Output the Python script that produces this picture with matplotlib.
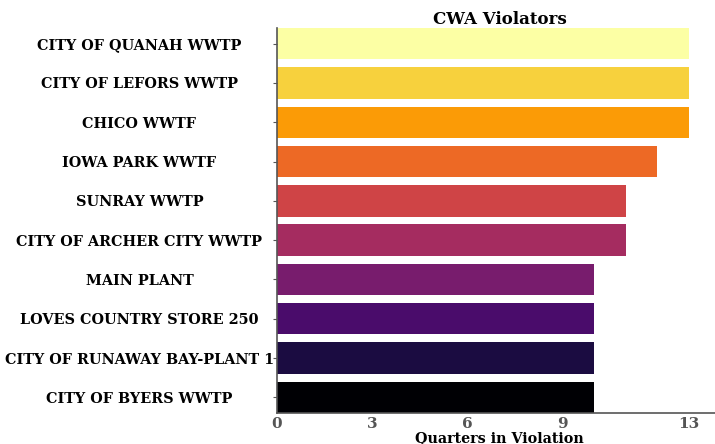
import numpy as np
import matplotlib
matplotlib.use("Agg")
import matplotlib.pyplot as plt

# facilities, top to bottom as shown
facilities = [
    "CITY OF QUANAH WWTP",
    "CITY OF LEFORS WWTP",
    "CHICO WWTF",
    "IOWA PARK WWTF",
    "SUNRAY WWTP",
    "CITY OF ARCHER CITY WWTP",
    "MAIN PLANT",
    "LOVES COUNTRY STORE 250",
    "CITY OF RUNAWAY BAY-PLANT 1",
    "CITY OF BYERS WWTP",
]
quarters = [13, 13, 13, 12, 11, 11, 10, 10, 10, 10]
xticks = [0, 3, 6, 9, 13]

fig = plt.figure(figsize=(7.15, 4.44), dpi=100)
ax = fig.add_axes([277 / 715, 1 - 413 / 444, 445 / 715, (413 - 28) / 444])

n = len(facilities)
colors = plt.cm.inferno(np.linspace(1, 0, n))
ypos = np.arange(n)
ax.barh(ypos, quarters, height=0.8, color=colors)

ax.set_ylim(n - 0.6, -0.4)
ax.set_xlim(0, 14.04)
ax.set_yticks(ypos)
ax.set_yticklabels(facilities, family="DejaVu Serif", weight="bold", fontsize=10.4, ha="center")
ax.tick_params(axis="y", pad=96, length=3, color="#555555")
ax.set_xticks(xticks)
ax.set_xticklabels([str(t) for t in xticks], family="DejaVu Serif", weight="bold",
                   fontsize=11, color="#555555")
ax.tick_params(axis="x", length=0, pad=3)

for s in ["top", "right"]:
    ax.spines[s].set_visible(False)
for s in ["left", "bottom"]:
    ax.spines[s].set_color("#555555")
    ax.spines[s].set_linewidth(1.2)

ax.set_title("CWA Violators", family="DejaVu Serif", weight="bold", fontsize=12, pad=2)
ax.set_xlabel("Quarters in Violation", family="DejaVu Serif", weight="bold", fontsize=10.3, labelpad=0)

fig.savefig("out.png", dpi=100)
